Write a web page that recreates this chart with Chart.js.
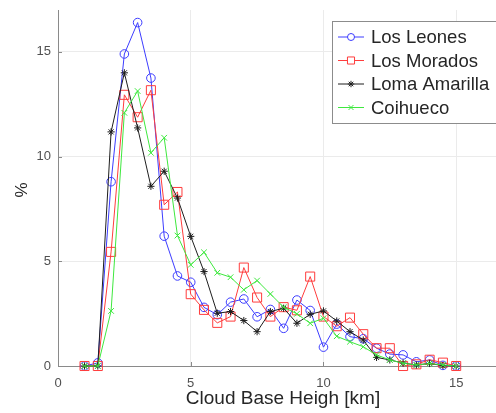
<!DOCTYPE html>
<html>
<head>
<meta charset="utf-8">
<script src="https://cdn.jsdelivr.net/npm/chart.js@4/dist/chart.umd.min.js"></script>
<style>
  html, body { margin: 0; padding: 0; background: #fff; }
  #wrap { width: 496px; height: 413px; position: relative; }
</style>
</head>
<body>
<div id="wrap"><canvas id="c" width="496" height="413"></canvas></div>
<script>
// Cloud base height bins (km)
const heights = [1, 1.5, 2, 2.5, 3, 3.5, 4, 4.5, 5, 5.5, 6, 6.5, 7, 7.5, 8, 8.5, 9, 9.5, 10, 10.5, 11, 11.5, 12, 12.5, 13, 13.5, 14, 14.5, 15];

// Percentage of cases per bin, one array per site
const losLeones    = [0, 0.15, 8.8, 14.9, 16.4, 13.75, 6.2, 4.3, 4.0, 2.8, 2.45, 3.05, 3.2, 2.35, 2.7, 1.8, 3.15, 2.65, 0.9, 2.0, 1.4, 1.3, 0.85, 0.57, 0.53, 0.2, 0.29, 0.03, 0];
const losMorados   = [0, 0, 5.45, 12.95, 11.88, 13.17, 7.7, 8.31, 3.43, 2.68, 2.06, 2.36, 4.7, 3.27, 2.36, 2.81, 2.66, 4.27, 2.36, 1.9, 2.31, 1.52, 0.85, 0.85, 0.0, 0.08, 0.3, 0.16, 0];
const lomaAmarilla = [0, 0, 11.18, 14.0, 11.37, 8.58, 9.3, 8.02, 6.19, 4.51, 2.52, 2.6, 2.17, 1.64, 2.6, 2.76, 2.04, 2.47, 2.63, 2.15, 1.64, 1.24, 0.41, 0.29, 0.14, 0.05, 0.12, 0.02, 0];
const coihueco     = [0, 0, 2.63, 12.09, 13.13, 10.18, 10.9, 6.23, 4.83, 5.43, 4.45, 4.24, 3.64, 4.08, 3.44, 2.81, 2.49, 2.04, 2.28, 1.42, 1.16, 0.92, 0.53, 0.29, 0.13, 0.05, 0.12, 0.05, 0];

const seriesNames = ['Los Leones', 'Los Morados', 'Loma Amarilla', 'Coihueco'];

// Axis ticks
const xTicks = [0, 5, 10, 15];
const yTicks = [0, 5, 10, 15];

const xTitle = 'Cloud Base Heigh [km]';
const yTitle = '%';

const FONT = '"Liberation Sans", Arial, Helvetica, sans-serif';
const AXIS_COLOR = '#8a8a8a';

const styles = [
  { color: '#3c3cff', pointStyle: 'circle',   radius: 4.3, legendRadius: 3.5 },
  { color: '#ff3c3c', pointStyle: 'rect',     radius: 6.4, legendRadius: 5 },
  { color: '#1e1e1e', pointStyle: 'star',     radius: 3.6, legendRadius: 3.2 },
  { color: '#3ee83e', pointStyle: 'crossRot', radius: 4.0, legendRadius: 3.5 }
];

const values = [losLeones, losMorados, lomaAmarilla, coihueco];

const datasets = values.map((vals, i) => ({
  label: seriesNames[i],
  data: heights.map((h, k) => ({ x: h, y: vals[k] })),
  borderColor: styles[i].color,
  borderWidth: 1,
  backgroundColor: 'rgba(0,0,0,0)',
  pointStyle: styles[i].pointStyle,
  pointRadius: styles[i].radius,
  pointBorderColor: styles[i].color,
  pointBackgroundColor: 'rgba(0,0,0,0)',
  pointBorderWidth: 1,
  tension: 0,
  clip: false,
  order: values.length - i
}));

// Short inward tick marks on both axes
const inwardTicks = {
  id: 'inwardTicks',
  afterDatasetsDraw(chart) {
    const { ctx, chartArea, scales } = chart;
    ctx.save();
    ctx.strokeStyle = AXIS_COLOR;
    ctx.lineWidth = 1;
    ctx.beginPath();
    xTicks.forEach(v => {
      const px = Math.round(scales.x.getPixelForValue(v)) + 0.5;
      ctx.moveTo(px, chartArea.bottom);
      ctx.lineTo(px, chartArea.bottom - 4);
    });
    yTicks.forEach(v => {
      const py = Math.round(scales.y.getPixelForValue(v)) + 0.5;
      ctx.moveTo(chartArea.left, py);
      ctx.lineTo(chartArea.left + 4, py);
    });
    ctx.stroke();
    ctx.restore();
  }
};

// Boxed legend in the upper-right corner of the axes
const boxLegend = {
  id: 'boxLegend',
  afterDraw(chart) {
    const ctx = chart.ctx;
    const left = 332, top = 21, bottom = 123, right = 500;
    ctx.save();
    ctx.fillStyle = '#ffffff';
    ctx.fillRect(left, top, right - left, bottom - top);
    ctx.strokeStyle = '#8c8c8c';
    ctx.lineWidth = 1;
    ctx.strokeRect(left + 0.5, top + 0.5, right - left, bottom - top);
    const rows = [37, 60.5, 84, 107.5];
    chart.data.datasets.forEach((ds, i) => {
      const y = rows[i];
      ctx.strokeStyle = ds.borderColor;
      ctx.lineWidth = 1;
      ctx.beginPath();
      ctx.moveTo(338, y);
      ctx.lineTo(364, y);
      ctx.stroke();
      ctx.fillStyle = '#ffffff';
      ctx.strokeStyle = ds.borderColor;
      Chart.helpers.drawPoint(ctx, {
        pointStyle: ds.pointStyle, rotation: 0,
        radius: styles[i].legendRadius, borderWidth: 1
      }, 351, y);
      ctx.fillStyle = '#262626';
      ctx.font = '18.5px ' + FONT;
      ctx.textBaseline = 'middle';
      ctx.textAlign = 'left';
      ctx.fillText(ds.label, 371, y + 1);
    });
    ctx.restore();
  }
};

// Axis titles
const axisTitles = {
  id: 'axisTitles',
  afterDraw(chart) {
    const ctx = chart.ctx;
    ctx.save();
    ctx.fillStyle = '#262626';
    ctx.font = '19px ' + FONT;
    ctx.textAlign = 'center';
    ctx.textBaseline = 'middle';
    ctx.fillText(xTitle, 283, 399);
    ctx.translate(22, 190);
    ctx.rotate(-Math.PI / 2);
    ctx.font = '17px ' + FONT;
    ctx.fillText(yTitle, 0, 0);
    ctx.restore();
  }
};

new Chart(document.getElementById('c'), {
  type: 'line',
  data: { datasets },
  options: {
    responsive: false,
    animation: false,
    devicePixelRatio: 1,
    layout: { autoPadding: false, padding: { top: 10, right: 0, bottom: 0, left: 0 } },
    plugins: { legend: { display: false }, tooltip: { enabled: false } },
    scales: {
      x: {
        type: 'linear',
        min: 0, max: 16.5,
        afterBuildTicks: s => { s.ticks = xTicks.map(v => ({ value: v })); },
        afterFit: s => { s.height = 47; s.paddingLeft = 0; s.paddingRight = 0; },
        ticks: { font: { family: FONT, size: 13 }, color: '#505050', padding: 10, maxRotation: 0, autoSkip: false },
        grid: { color: '#ebebeb', lineWidth: 1, drawTicks: false },
        border: { color: AXIS_COLOR, width: 1 }
      },
      y: {
        type: 'linear',
        min: 0, max: 17,
        afterBuildTicks: s => { s.ticks = yTicks.map(v => ({ value: v })); },
        afterFit: s => { s.width = 58; s.paddingTop = 0; s.paddingBottom = 0; },
        ticks: { font: { family: FONT, size: 13 }, color: '#505050', padding: 7, autoSkip: false },
        grid: { color: '#ebebeb', lineWidth: 1, drawTicks: false },
        border: { color: AXIS_COLOR, width: 1 }
      }
    }
  },
  plugins: [inwardTicks, boxLegend, axisTitles]
});
</script>
</body>
</html>
